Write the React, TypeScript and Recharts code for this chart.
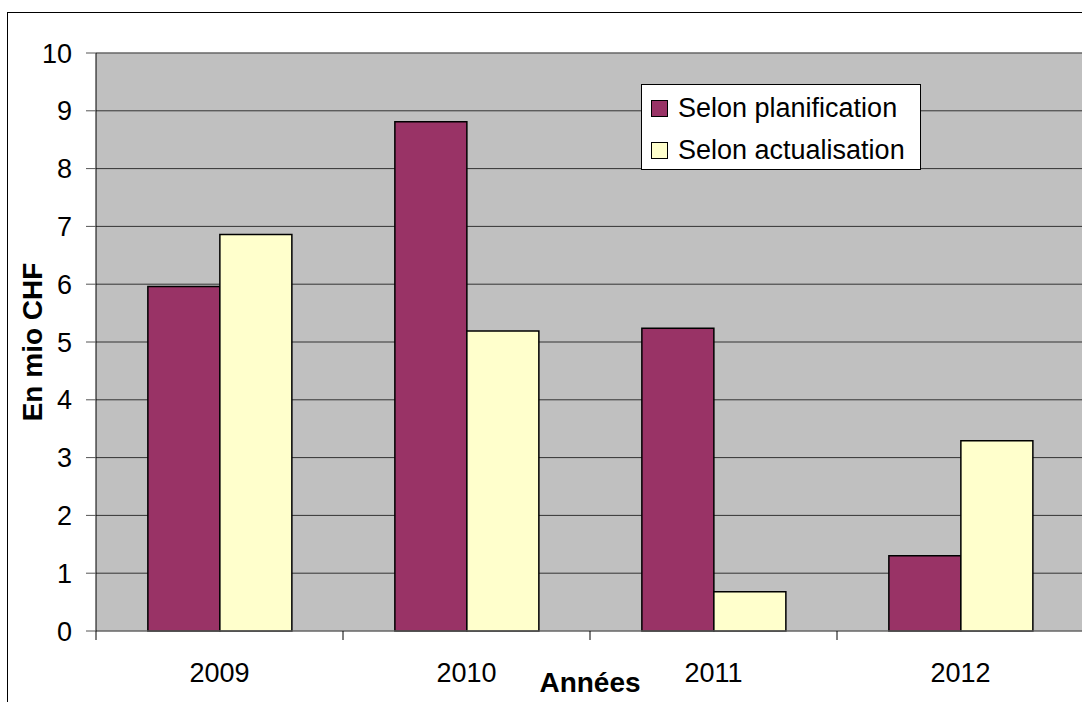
import React from 'react';
import { BarChart, Bar, XAxis, YAxis, CartesianGrid, Legend, ReferenceLine } from 'recharts';

// chart values
const years = ['2009', '2010', '2011', '2012'];
const planification = [5.96, 8.81, 5.24, 1.3];
const actualisation = [6.86, 5.19, 0.68, 3.29];
const yTicks = [0, 1, 2, 3, 4, 5, 6, 7, 8, 9, 10];
const seriesNames = ['Selon planification', 'Selon actualisation'];

const data = years.map((year, i) => ({
    year,
    planification: planification[i],
    actualisation: actualisation[i],
}));

const FONT = '"Liberation Sans", Arial, sans-serif';

/* x tick: year label at the band centre, small tick marks on the band borders */
const YearTick = (props: any) => {
    const { x, y, payload, index } = props;
    const half = payload && payload.offset ? payload.offset : 123.5;
    return (
        <g>
            <line x1={x - half} x2={x - half} y1={y - 9} y2={y} stroke="#000" />
            {index === years.length - 1 && (
                <line x1={x + half} x2={x + half} y1={y - 9} y2={y} stroke="#000" />
            )}
            <text x={x} y={y + 42} textAnchor="middle" fontSize={27} fontFamily={FONT} fill="#000">
                {payload.value}
            </text>
        </g>
    );
};

// legend drawn in series order (recharts sorts the payload by name otherwise)
const LegendBox = (props: any) => {
    const payload = [...(props.payload || [])].sort(
        (a: any, b: any) => seriesNames.indexOf(a.value) - seriesNames.indexOf(b.value)
    );
    return (
        <div
            style={{
                width: 280,
                height: 86,
                boxSizing: 'border-box',
                background: '#fff',
                border: '1px solid #000',
                paddingTop: 2,
                fontFamily: FONT,
                fontSize: 27,
                color: '#000',
            }}
        >
            {payload.map((entry: any) => (
                <div key={entry.value} style={{ display: 'flex', alignItems: 'center', height: 42, paddingLeft: 9 }}>
                    <span
                        style={{
                            display: 'inline-block',
                            width: 17,
                            height: 17,
                            boxSizing: 'border-box',
                            background: entry.color,
                            border: '1px solid #000',
                            marginRight: 10,
                        }}
                    />
                    <span style={{ lineHeight: '42px' }}>{entry.value}</span>
                </div>
            ))}
        </div>
    );
};

const App = () => {
    return (
        <div style={{ position: 'absolute', left: 0, top: 0, width: 1082, height: 702, overflow: 'hidden', background: '#fff' }}>
            {/* outer chart border */}
            <div
                style={{
                    position: 'absolute',
                    left: 7,
                    top: 12,
                    width: 1200,
                    height: 800,
                    borderTop: '1px solid #000',
                    borderLeft: '1px solid #000',
                }}
            />
            <div style={{ position: 'absolute', left: 0, top: 0 }}>
                <BarChart
                    width={1100}
                    height={702}
                    data={data}
                    margin={{ top: 53, right: 16, left: 0, bottom: 0 }}
                    barCategoryGap="21%"
                    barGap={0}
                >
                    <CartesianGrid vertical={false} fill="#C0C0C0" stroke="#333" strokeOpacity={1} />
                    <ReferenceLine y={10} stroke="#808080" />
                    <XAxis
                        dataKey="year"
                        height={71}
                        axisLine={{ stroke: '#808080' }}
                        tickLine={false}
                        tickSize={9}
                        tickMargin={0}
                        tick={<YearTick />}
                        interval={0}
                        label={{
                            value: 'Années',
                            position: 'insideBottom',
                            offset: 10,
                            fontSize: 28,
                            fontWeight: 'bold',
                            fontFamily: FONT,
                            fill: '#000',
                        }}
                    />
                    <YAxis
                        width={96}
                        domain={[0, 10]}
                        ticks={yTicks}
                        interval={0}
                        axisLine={{ stroke: '#000' }}
                        tickLine={{ stroke: '#555' }}
                        tickSize={10}
                        tickMargin={14}
                        tick={{ fontSize: 27, fontFamily: FONT, fill: '#000' }}
                        label={{
                            value: 'En mio CHF',
                            angle: -90,
                            position: 'insideLeft',
                            offset: 32,
                            fontSize: 28,
                            fontWeight: 'bold',
                            fontFamily: FONT,
                            fill: '#000',
                            style: { textAnchor: 'middle' },
                        }}
                    />
                    <Legend
                        layout="vertical"
                        align="center"
                        verticalAlign="middle"
                        content={<LegendBox />}
                        wrapperStyle={{ left: 641, top: 84, width: 280, height: 86 }}
                    />
                    <Bar
                        dataKey="planification"
                        name={seriesNames[0]}
                        fill="#993366"
                        stroke="#000"
                        strokeWidth={1.5}
                        isAnimationActive={false}
                    />
                    <Bar
                        dataKey="actualisation"
                        name={seriesNames[1]}
                        fill="#FFFFCC"
                        stroke="#000"
                        strokeWidth={1.5}
                        isAnimationActive={false}
                    />
                </BarChart>
            </div>
        </div>
    );
};

export default App;
